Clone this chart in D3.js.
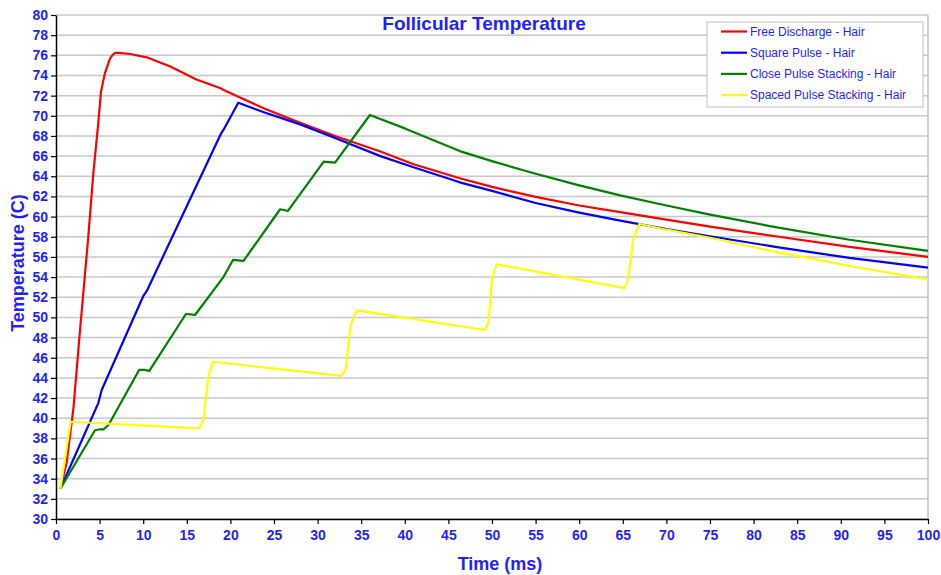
<!DOCTYPE html>
<meta charset="utf-8">
<style>
    body { margin: 0; background: #fff; }
    text { font-family: Arial, "Liberation Sans", sans-serif; }
</style>
<div id="chart"></div>
<script src="https://d3js.org/d3.v7.min.js"></script>
<script>
    // series names
    var seriesNames = ["Free Discharge - Hair", "Square Pulse - Hair", "Close Pulse Stacking - Hair", "Spaced Pulse Stacking - Hair"];
    var seriesColors = ["#ff0000", "#0000ff", "#008000", "#ffff00"];

    // Free Discharge - time (ms), temperature (C)
    var freeTime = [0.5, 1.2, 2.0, 2.75, 3.7, 4.28, 4.85, 5.16, 5.6, 6.2, 6.5, 6.8, 7.2, 8.5, 10.4, 13.1, 16.1, 18.8, 19.6, 23.8, 28, 32, 37.2, 41, 46.3, 50, 55, 60, 64.7, 70, 75, 82.5, 91, 100];
    var freeTemp = [33, 35.5, 41, 48.7, 58, 64.3, 69.3, 72.4, 74.2, 75.7, 76.05, 76.25, 76.25, 76.13, 75.8, 74.9, 73.6, 72.75, 72.4, 70.75, 69.3, 68.0, 66.45, 65.2, 63.8, 62.95, 61.95, 61.1, 60.45, 59.7, 59.0, 58.05, 57.0, 56.0];

    // Square Pulse
    var squareTime = [0.5, 4.85, 5.24, 10.0, 10.4, 18.9, 19.2, 20.9, 24, 28, 32, 37.2, 41, 46.3, 50, 55, 60, 64.7, 70, 75, 82.5, 91, 100];
    var squareTemp = [33, 41.5, 42.8, 52.1, 52.6, 68.2, 68.6, 71.3, 70.3, 69.15, 67.8, 66.0, 64.9, 63.4, 62.55, 61.35, 60.4, 59.6, 58.75, 58.05, 57.0, 55.9, 54.93];

    // Close Pulse Stacking
    var closeTime = [0.5, 4.47, 5.0, 5.43, 6.0, 9.55, 10.1, 10.7, 14.9, 15.4, 15.94, 19.2, 20.3, 20.9, 21.5, 25.7, 26.1, 26.6, 30.7, 31.3, 32.0, 36.0, 40, 46.3, 50, 55, 60, 64.7, 70, 75, 82.5, 91, 100];
    var closeTemp = [33, 38.8, 38.9, 38.9, 39.3, 44.8, 44.8, 44.7, 50.34, 50.3, 50.24, 54.0, 55.7, 55.65, 55.6, 60.73, 60.65, 60.56, 65.45, 65.4, 65.35, 70.08, 68.75, 66.5, 65.5, 64.25, 63.1, 62.1, 61.1, 60.2, 58.95, 57.7, 56.6];

    // Spaced Pulse Stacking
    var spacedTime = [0.5, 1.68, 16.4, 16.9, 17.45, 18.0, 32.7, 33.2, 33.8, 34.5, 49.2, 49.6, 50.0, 50.5, 65.2, 65.6, 66.2, 66.9, 70, 75, 82.5, 91, 100];
    var spacedTemp = [33, 39.65, 39.0, 39.8, 44.1, 45.6, 44.2, 44.8, 49.3, 50.7, 48.75, 49.5, 53.8, 55.27, 52.9, 53.8, 57.8, 59.27, 58.7, 57.9, 56.5, 55.1, 53.78];

    var xTicks = d3.range(0, 101, 5);
    var yTicks = d3.range(30, 81, 2);

    var seriesTimes = [freeTime, squareTime, closeTime, spacedTime];
    var seriesTemps = [freeTemp, squareTemp, closeTemp, spacedTemp];

    var W = 941, H = 575;
    var svg = d3.select("#chart").append("svg")
        .attr("width", W)
        .attr("height", H);

    var x = d3.scaleLinear().domain([0, 100]).range([56, 928]);
    var y = d3.scaleLinear().domain([30, 80]).range([519, 15]);

    // gridlines
    svg.append("g")
        .selectAll("line")
        .data(yTicks)
        .enter().append("line")
        .attr("x1", x(0)).attr("x2", x(100))
        .attr("y1", function(d) { return y(d); })
        .attr("y2", function(d) { return y(d); })
        .attr("stroke", "#c8c8c8")
        .attr("stroke-width", 1.5);

    // right border
    svg.append("line")
        .attr("x1", x(100)).attr("x2", x(100))
        .attr("y1", y(80)).attr("y2", y(30))
        .attr("stroke", "#c0c0c0")
        .attr("stroke-width", 1.5);

    // lines
    var line = d3.line()
        .x(function(d) { return x(d[0]); })
        .y(function(d) { return y(d[1]); });

    seriesNames.forEach(function(name, i) {
        var pts = seriesTimes[i].map(function(t, j) { return [t, seriesTemps[i][j]]; });
        svg.append("path")
            .datum(pts)
            .attr("fill", "none")
            .attr("stroke", seriesColors[i])
            .attr("stroke-width", 2.2)
            .attr("stroke-linejoin", "round")
            .attr("d", line);
    });

    // axes
    var xAxis = svg.append("g")
        .attr("transform", "translate(0," + y(30) + ")")
        .call(d3.axisBottom(x).tickValues(xTicks).tickSize(5).tickSizeOuter(0));
    var yAxis = svg.append("g")
        .attr("transform", "translate(" + x(0) + ",0)")
        .call(d3.axisLeft(y).tickValues(yTicks).tickSize(5).tickSizeOuter(0));

    [xAxis, yAxis].forEach(function(a) {
        a.select(".domain").attr("stroke", "#000").attr("stroke-width", 1.5);
        a.selectAll(".tick line").attr("stroke", "#000").attr("stroke-width", 1.2);
        a.selectAll(".tick text")
            .attr("fill", "#1f1fff")
            .style("font-size", "14px")
            .style("font-weight", "bold")
            .style("font-family", "Arial, 'Liberation Sans', sans-serif");
    });
    xAxis.selectAll(".tick text").attr("dy", "0.9em");
    yAxis.selectAll(".tick text").attr("x", -8);

    // title
    svg.append("text")
        .attr("x", 484).attr("y", 30)
        .attr("text-anchor", "middle")
        .attr("fill", "#1f1fff")
        .style("font-size", "19px")
        .style("font-weight", "bold")
        .text("Follicular Temperature");

    svg.append("text")
        .attr("x", 500).attr("y", 570)
        .attr("text-anchor", "middle")
        .attr("fill", "#1f1fff")
        .style("font-size", "18px")
        .style("font-weight", "bold")
        .text("Time (ms)");

    svg.append("text")
        .attr("transform", "translate(24,263) rotate(-90)")
        .attr("text-anchor", "middle")
        .attr("fill", "#1f1fff")
        .style("font-size", "18px")
        .style("font-weight", "bold")
        .text("Temperature (C)");

    // legend
    var legend = svg.append("g").attr("transform", "translate(707,22)");
    legend.append("rect")
        .attr("width", 216).attr("height", 85)
        .attr("fill", "#fff")
        .attr("stroke", "#c0c0c0")
        .attr("stroke-width", 1);
    seriesNames.forEach(function(name, i) {
        var yy = 9.5 + i * 21.2;
        legend.append("line")
            .attr("x1", 14).attr("x2", 40)
            .attr("y1", yy).attr("y2", yy)
            .attr("stroke", seriesColors[i])
            .attr("stroke-width", 2.2);
        legend.append("text")
            .attr("x", 43).attr("y", yy + 4)
            .attr("fill", "#1f1fff")
            .style("font-size", "12px")
            .text(name);
    });
</script>
